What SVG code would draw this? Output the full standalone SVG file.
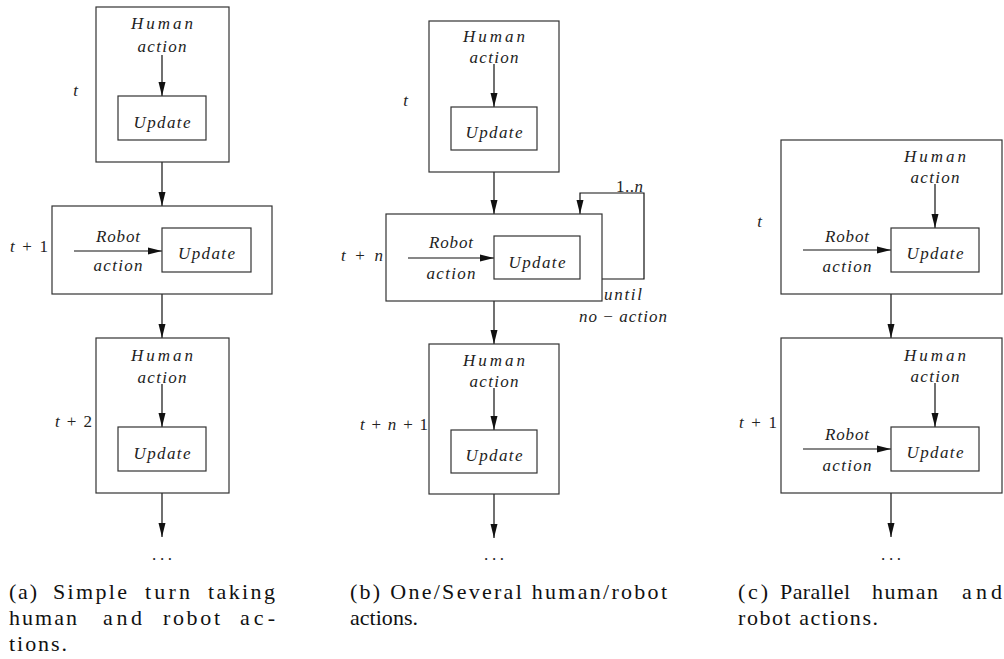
<svg xmlns="http://www.w3.org/2000/svg" width="1004" height="659" viewBox="0 0 1004 659">
<style>
.box{fill:none;stroke:#333;stroke-width:1.2}
.conn{fill:none;stroke:#111;stroke-width:1.2;marker-end:url(#ah)}
.m{font-family:"Liberation Serif",serif;font-style:italic;font-size:17px;fill:#222;text-anchor:middle}
.tl{font-family:"Liberation Serif",serif;font-size:17px;fill:#222;text-anchor:end}
.tl tspan.i{font-style:italic}
.dots{font-family:"Liberation Serif",serif;font-size:17px;fill:#222;text-anchor:middle}
.cap{font-family:"Liberation Serif",serif;font-size:22px;fill:#111}
</style>
<defs>
<marker id="ah" markerUnits="userSpaceOnUse" markerWidth="14" markerHeight="8" refX="14" refY="4" orient="auto">
<path d="M0,0.5 L14,4 L0,7.5 z" fill="#111"/>
</marker>
</defs>

<g id="connectors">
<!-- panel a -->
<line class="conn" x1="162" y1="55" x2="162" y2="96"/>
<line class="conn" x1="162" y1="162" x2="162" y2="206"/>
<line class="conn" x1="74" y1="251" x2="162" y2="251"/>
<line class="conn" x1="162" y1="294" x2="162" y2="338"/>
<line class="conn" x1="162" y1="384" x2="162" y2="427"/>
<line class="conn" x1="162" y1="493" x2="162" y2="537"/>
<!-- panel b -->
<line class="conn" x1="494" y1="64" x2="494" y2="107"/>
<line class="conn" x1="494" y1="172" x2="494" y2="214"/>
<line class="conn" x1="408" y1="258" x2="494" y2="258"/>
<path class="conn" d="M602,279 H644 V193 H580 V214"/>
<line class="conn" x1="494" y1="301" x2="494" y2="344"/>
<line class="conn" x1="494" y1="388" x2="494" y2="430"/>
<line class="conn" x1="494" y1="494" x2="494" y2="538"/>
<!-- panel c -->
<line class="conn" x1="935" y1="184" x2="935" y2="228"/>
<line class="conn" x1="803" y1="250" x2="891" y2="250"/>
<line class="conn" x1="891" y1="294" x2="891" y2="338"/>
<line class="conn" x1="935" y1="383" x2="935" y2="427"/>
<line class="conn" x1="803" y1="449" x2="891" y2="449"/>
<line class="conn" x1="891" y1="493" x2="891" y2="537"/>
</g>

<!-- Panel (a) -->
<g id="a-step-t">
<rect class="box" x="96" y="7" width="133" height="155"/>
<text class="m" x="162" y="29" textLength="62">Human</text>
<text class="m" x="162" y="52" textLength="49">action</text>
<text class="tl" x="78" y="96"><tspan class="i">t</tspan></text>
</g>
<g id="a-update-1">
<rect class="box" x="118" y="96" width="88" height="44"/>
<text class="m" x="162" y="128" textLength="57">Update</text>
</g>
<g id="a-step-t1">
<rect class="box" x="52" y="206" width="220" height="88"/>
<text class="m" x="118" y="242" textLength="44">Robot</text>
<text class="m" x="118" y="271" textLength="49">action</text>
<text class="tl" x="48" y="252" textLength="38"><tspan class="i">t</tspan> + 1</text>
</g>
<g id="a-update-2">
<rect class="box" x="162" y="228" width="89" height="44"/>
<text class="m" x="206.5" y="259" textLength="57">Update</text>
</g>
<g id="a-step-t2">
<rect class="box" x="96" y="338" width="133" height="155"/>
<text class="m" x="162" y="361" textLength="62">Human</text>
<text class="m" x="162" y="383" textLength="49">action</text>
<text class="tl" x="92" y="427" textLength="37"><tspan class="i">t</tspan> + 2</text>
</g>
<g id="a-update-3">
<rect class="box" x="118" y="427" width="88" height="44"/>
<text class="m" x="162" y="459" textLength="57">Update</text>
</g>
<text class="dots" x="162" y="560" textLength="20">. . .</text>

<!-- Panel (b) -->
<g id="b-step-t">
<rect class="box" x="429" y="21" width="130" height="151"/>
<text class="m" x="494" y="42" textLength="62">Human</text>
<text class="m" x="494" y="63" textLength="49">action</text>
<text class="tl" x="408" y="106"><tspan class="i">t</tspan></text>
</g>
<g id="b-update-1">
<rect class="box" x="451" y="107" width="86" height="43"/>
<text class="m" x="494" y="138" textLength="57">Update</text>
</g>
<g id="b-step-tn">
<rect class="box" x="386" y="214" width="216" height="87"/>
<text class="m" x="451" y="248" textLength="44">Robot</text>
<text class="m" x="451" y="279" textLength="49">action</text>
<text class="tl" x="383" y="261" textLength="42"><tspan class="i">t</tspan> + <tspan class="i">n</tspan></text>
</g>
<g id="b-update-2">
<rect class="box" x="494" y="236" width="86" height="43"/>
<text class="m" x="537" y="268" textLength="57">Update</text>
</g>
<g id="b-loop-labels">
<text class="tl" x="643" y="192" textLength="27">1..<tspan class="i">n</tspan></text>
<text class="m" x="623" y="300" textLength="38">until</text>
<text class="tl" x="667" y="322" textLength="88"><tspan class="i">no</tspan> − <tspan class="i">action</tspan></text>
</g>
<g id="b-step-tn1">
<rect class="box" x="429" y="344" width="130" height="150"/>
<text class="m" x="494" y="366" textLength="62">Human</text>
<text class="m" x="494" y="387" textLength="49">action</text>
<text class="tl" x="428" y="430" textLength="68"><tspan class="i">t</tspan> + <tspan class="i">n</tspan> + 1</text>
</g>
<g id="b-update-3">
<rect class="box" x="451" y="430" width="86" height="43"/>
<text class="m" x="494" y="461" textLength="57">Update</text>
</g>
<text class="dots" x="494" y="560" textLength="20">. . .</text>

<!-- Panel (c) -->
<g id="c-step-t">
<rect class="box" x="781" y="140" width="221" height="154"/>
<text class="m" x="935" y="162" textLength="62">Human</text>
<text class="m" x="935" y="183" textLength="49">action</text>
<text class="m" x="847" y="242" textLength="44">Robot</text>
<text class="m" x="847" y="272" textLength="49">action</text>
<text class="tl" x="762" y="227"><tspan class="i">t</tspan></text>
</g>
<g id="c-update-1">
<rect class="box" x="891" y="228" width="88" height="44"/>
<text class="m" x="935" y="259" textLength="57">Update</text>
</g>
<g id="c-step-t1">
<rect class="box" x="781" y="338" width="221" height="155"/>
<text class="m" x="935" y="361" textLength="62">Human</text>
<text class="m" x="935" y="382" textLength="49">action</text>
<text class="m" x="847" y="440" textLength="44">Robot</text>
<text class="m" x="847" y="471" textLength="49">action</text>
<text class="tl" x="777" y="428" textLength="38"><tspan class="i">t</tspan> + 1</text>
</g>
<g id="c-update-2">
<rect class="box" x="891" y="427" width="88" height="44"/>
<text class="m" x="935" y="458" textLength="57">Update</text>
</g>
<text class="dots" x="891" y="560" textLength="20">. . .</text>

<!-- Captions -->
<g id="captions">
<text class="cap" x="9" y="599" textLength="28">(a)</text>
<text class="cap" x="53" y="599" textLength="74">Simple</text>
<text class="cap" x="145" y="599" textLength="45">turn</text>
<text class="cap" x="208" y="599" textLength="67">taking</text>
<text class="cap" x="9" y="625" textLength="68">human</text>
<text class="cap" x="103" y="625" textLength="39">and</text>
<text class="cap" x="163" y="625" textLength="57">robot</text>
<text class="cap" x="240" y="625" textLength="35">ac-</text>
<text class="cap" x="9" y="651" textLength="58">tions.</text>
<text class="cap" x="350" y="599" textLength="317">(b) One/Several human/robot</text>
<text class="cap" x="350" y="625" textLength="68">actions.</text>
<text class="cap" x="738" y="599" textLength="30">(c)</text>
<text class="cap" x="780" y="599" textLength="70">Parallel</text>
<text class="cap" x="872" y="599" textLength="66">human</text>
<text class="cap" x="962" y="599" textLength="40">and</text>
<text class="cap" x="738" y="625" textLength="140">robot actions.</text>
</g>
</svg>
